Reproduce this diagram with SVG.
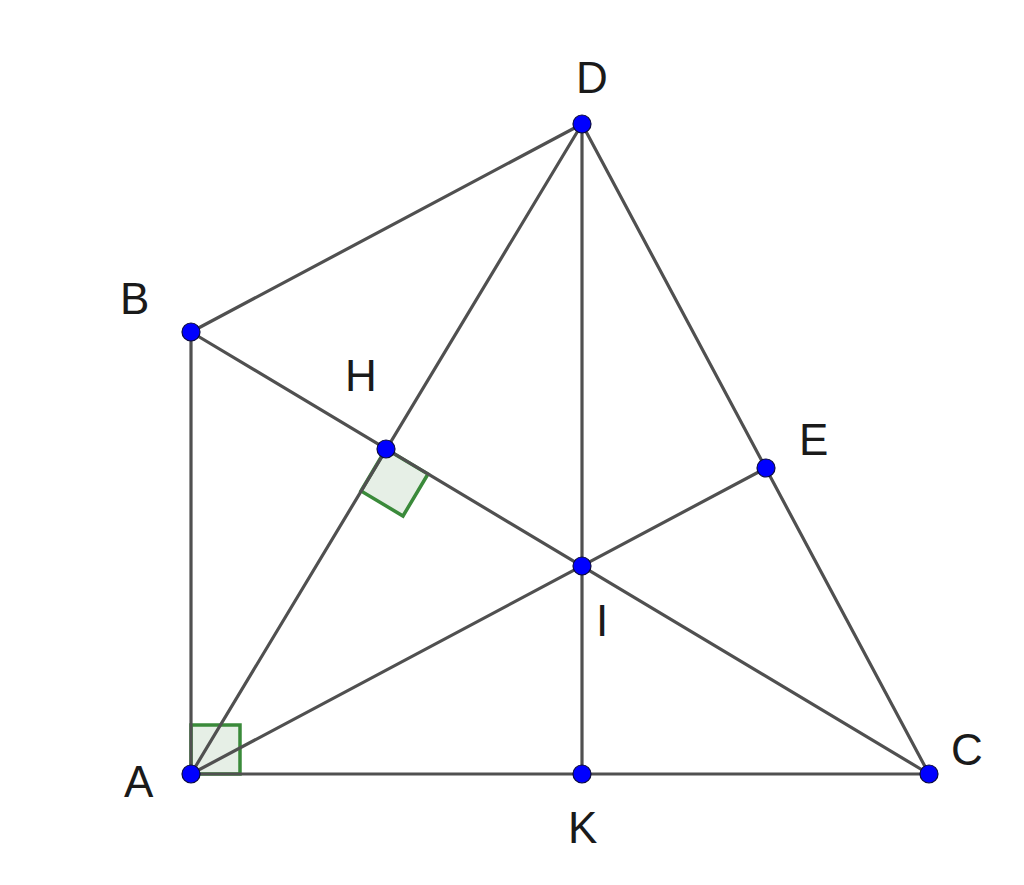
<svg xmlns="http://www.w3.org/2000/svg" width="1024" height="885" viewBox="0 0 1024 885">
<style>
.seg{stroke:#505050;stroke-width:3.2;fill:none;stroke-linecap:round}
.ra{fill:#e6efe6;stroke:#3a8a3a;stroke-width:3.5;stroke-linejoin:miter}
.pt{fill:#0000ff;stroke:#0a0a40;stroke-width:1.2}
.lb{font-family:"Liberation Sans",Arial,sans-serif;font-size:44px;fill:#1a1a1a}
</style>
<rect width="1024" height="885" fill="#ffffff"/>
<g id="angle-marks">
<polygon class="ra" points="191,774 240,774 240,725 191,725"/>
<polygon class="ra" points="386,449 428,474 403,516 361,491"/>
</g>
<g id="connectors">
<line class="seg" x1="191" y1="774" x2="929" y2="774"/>
<line class="seg" x1="191" y1="774" x2="191" y2="332"/>
<line class="seg" x1="191" y1="332" x2="582" y2="124"/>
<line class="seg" x1="191" y1="332" x2="929" y2="774"/>
<line class="seg" x1="582" y1="124" x2="929" y2="774"/>
<line class="seg" x1="582" y1="124" x2="582" y2="774"/>
<line class="seg" x1="582" y1="124" x2="191" y2="774"/>
<line class="seg" x1="191" y1="774" x2="766" y2="468"/>
</g>
<g id="node-A"><circle class="pt" cx="191" cy="774" r="9"/><text class="lb" x="124" y="797">A</text></g>
<g id="node-B"><circle class="pt" cx="191" cy="332" r="9"/><text class="lb" x="120" y="314">B</text></g>
<g id="node-C"><circle class="pt" cx="929" cy="774" r="9"/><text class="lb" x="951" y="765">C</text></g>
<g id="node-D"><circle class="pt" cx="582" cy="124" r="9"/><text class="lb" x="576" y="93">D</text></g>
<g id="node-E"><circle class="pt" cx="766" cy="468" r="9"/><text class="lb" x="799" y="455">E</text></g>
<g id="node-H"><circle class="pt" cx="386" cy="449" r="9"/><text class="lb" x="345" y="391">H</text></g>
<g id="node-I"><circle class="pt" cx="582" cy="566" r="9"/><text class="lb" x="596" y="636">I</text></g>
<g id="node-K"><circle class="pt" cx="582" cy="774" r="9"/><text class="lb" x="568" y="843">K</text></g>
</svg>
